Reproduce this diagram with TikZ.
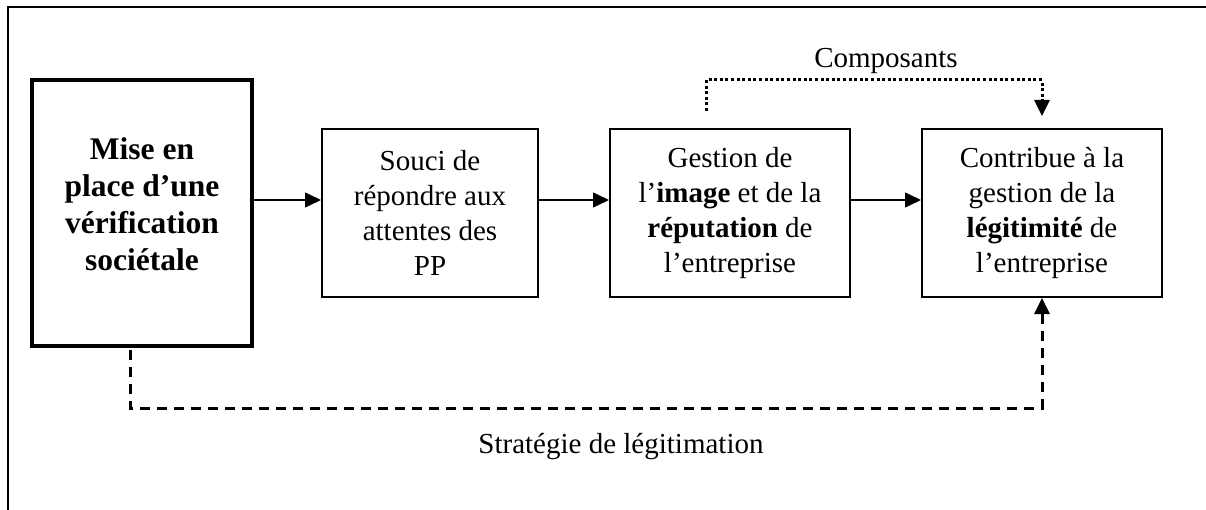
\documentclass[tikz,border=0pt]{standalone}
\usepackage{fontspec}
\setmainfont{Liberation Serif}
\usetikzlibrary{arrows.meta}

\tikzset{
	bloc/.style={draw, line width=2pt, minimum height=168pt, align=center, inner sep=0pt},
	blocfort/.style={bloc, line width=4.5pt, minimum width=220pt, minimum height=266pt, font=\fontsize{31.5}{37}\selectfont\bfseries},
	fleche/.style={line width=1.6pt, -{Triangle[length=16pt,width=15pt]}},
	pointille/.style={fleche, line width=3pt, dash pattern=on 3pt off 2.6pt},
	tirets/.style={fleche, line width=3pt, dash pattern=on 10pt off 7pt}
}

\begin{document}
\begin{tikzpicture}[x=1pt,y=-1pt]
		\useasboundingbox (0,0) rectangle (1206,510);
		\fontsize{29}{35}\selectfont
		\draw[line width=2pt] (8,510) -- (8,7) -- (1206,7);  % cadre
		\node[blocfort] (mise) at (142,213) {Mise en\\place d’une\\vérification\\sociétale\\[-19pt]\mbox{}};
		\node[bloc, minimum width=216pt] (souci) at (430,213) {Souci de\\répondre aux\\attentes des\\PP};
		\node[bloc, minimum width=240pt] (image) at (730,213) {Gestion de\\l’\textbf{image} et de la\\\textbf{réputation} de\\l’entreprise};
		\node[bloc, minimum width=240pt] (legit) at (1042,213) {Contribue à la\\gestion de la\\\textbf{légitimité} de\\l’entreprise};
		\draw[fleche] ([yshift=13pt]mise.east) -- ([yshift=13pt]souci.west);  % F_1
		\draw[fleche] ([yshift=13pt]souci.east) -- ([yshift=13pt]image.west);  % F_2
		\draw[fleche] ([yshift=13pt]image.east) -- ([yshift=13pt]legit.west);  % F_3
		\draw[pointille] ([xshift=-24pt,yshift=17pt]image.north) -- ++(0,-31) -| ([yshift=12pt]legit.north);  % composants
		\node[anchor=base] (composants) at (886,68) {Composants};
		\draw[tirets] ([xshift=-12pt,yshift=-2pt]mise.south) -- ++(0,58) -| (legit.south);  % strategie
		\node[anchor=base] (strategie) at (621,453) {Stratégie de légitimation};
	\end{tikzpicture}
\end{document}
